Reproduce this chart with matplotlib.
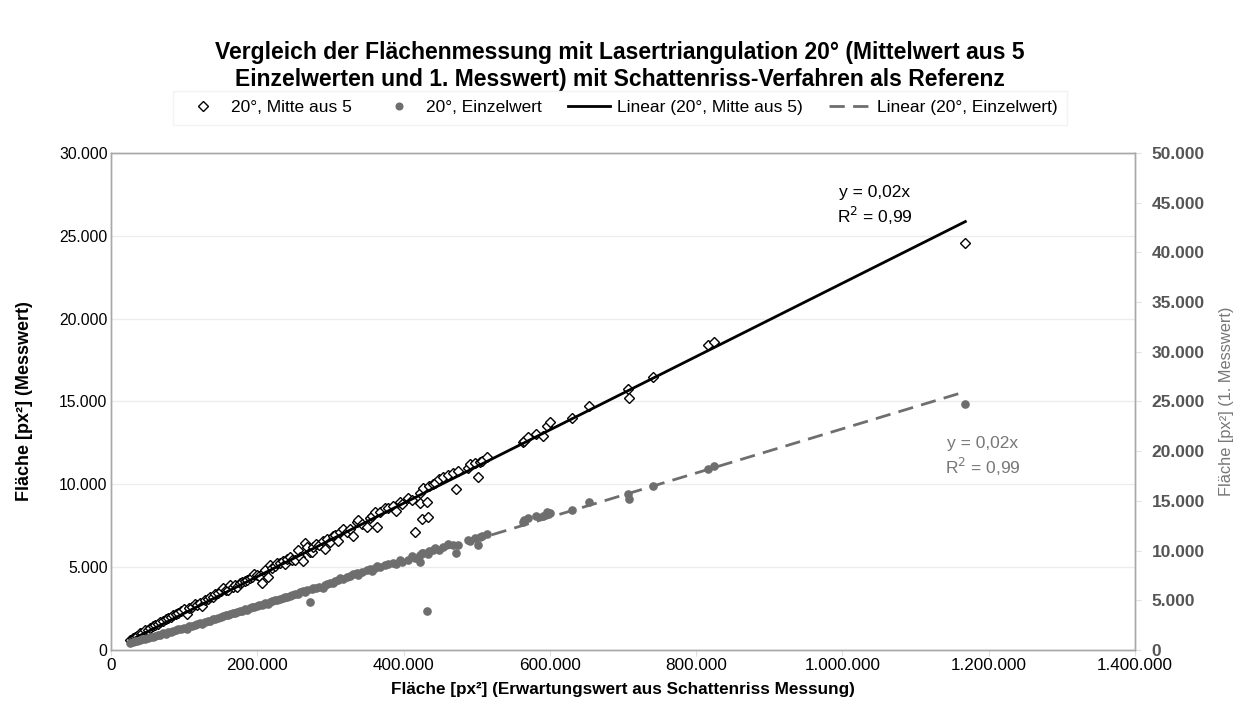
import matplotlib.pyplot as plt
import numpy as np
from matplotlib.lines import Line2D
from matplotlib.ticker import FuncFormatter

plt.rcParams["font.family"] = ["Liberation Sans", "DejaVu Sans"]

# Fläche aus Schattenriss (Tsd. px²)
x_ref = [26, 30, 33, 36, 40, 43, 46, 50, 53, 57, 60, 64, 67, 71, 75, 78, 82, 85,
         89, 92, 96, 100, 104, 107, 111, 115, 118, 122, 125, 129, 132, 135, 139,
         142, 146, 150, 153, 157, 160, 163, 167, 170, 172, 176, 179, 183, 186,
         190, 193, 196, 199, 203, 206, 209, 211, 215, 217, 220, 224, 227, 231,
         235, 238, 241, 245, 248, 252, 256, 259, 263, 265, 268, 272, 275, 276,
         280, 285, 290, 292, 295, 299, 304, 306, 310, 313, 317, 322, 327, 331,
         336, 338, 343, 350, 354, 357, 361, 364, 368, 375, 379, 386, 390, 395,
         398, 406, 411, 415, 422, 422, 425, 427, 432, 434, 435, 440, 443, 449,
         454, 461, 468, 472, 475, 488, 491, 498, 502, 505, 507, 514, 563, 565,
         570, 581, 590, 596, 600, 630, 653, 707, 708, 741, 816, 824, 1168]
# 20°, Mittelwert aus 5 (Tsd. px², linke Achse)
y_mean5 = [0.60, 0.70, 0.78, 0.85, 1.00, 1.05, 1.20, 1.22, 1.30, 1.42, 1.50, 1.55,
           1.70, 1.75, 1.85, 1.95, 1.98, 2.10, 2.20, 2.25, 2.35, 2.45, 2.15, 2.55,
           2.60, 2.75, 2.70, 2.85, 2.65, 3.00, 3.10, 3.20, 3.20, 3.35, 3.45, 3.55,
           3.75, 3.60, 3.65, 3.90, 3.80, 3.95, 3.80, 4.05, 4.10, 4.15, 4.25, 4.35,
           4.40, 4.60, 4.55, 4.45, 4.05, 4.70, 4.85, 4.40, 5.15, 4.95, 5.05, 5.25,
           5.25, 5.35, 5.20, 5.50, 5.60, 5.45, 5.45, 6.05, 5.60, 5.35, 6.45, 6.20,
           5.90, 5.90, 6.20, 6.40, 6.35, 6.55, 6.10, 6.70, 6.50, 6.85, 6.95, 6.55,
           7.10, 7.30, 7.10, 7.30, 6.85, 7.70, 7.85, 7.60, 7.40, 7.95, 8.10, 8.30,
           7.40, 8.30, 8.60, 8.55, 8.70, 8.40, 8.95, 8.80, 9.20, 9.05, 7.15, 9.50,
           8.90, 7.90, 9.75, 8.95, 8.00, 9.90, 10.00, 10.10, 10.30, 10.45, 10.55,
           10.70, 9.70, 10.80, 11.00, 11.20, 11.30, 10.45, 11.35, 11.40, 11.65,
           12.55, 12.60, 12.85, 13.05, 12.90, 13.50, 13.75, 14.00, 14.75, 15.75,
           15.20, 16.50, 18.40, 18.60, 24.55]
# 20°, Einzelwert (Tsd. px², rechte Achse)
y_single = [0.75, 0.85, 0.90, 0.95, 1.05, 1.10, 1.15, 1.25, 1.30, 1.30, 1.45, 1.50,
            1.55, 1.70, 1.65, 1.80, 1.85, 1.95, 2.00, 2.10, 2.15, 2.25, 2.10, 2.40,
            2.45, 2.55, 2.60, 2.70, 2.65, 2.85, 2.95, 2.90, 3.10, 3.15, 3.25, 3.30,
            3.40, 3.50, 3.55, 3.60, 3.70, 3.75, 3.85, 3.90, 3.95, 4.10, 4.05, 4.20,
            4.30, 4.35, 4.45, 4.55, 4.50, 4.60, 4.70, 4.65, 4.80, 4.90, 5.00, 5.05,
            5.15, 5.20, 5.35, 5.30, 5.40, 5.55, 5.65, 5.60, 5.80, 5.90, 5.85, 6.00,
            4.85, 6.10, 6.20, 6.25, 6.35, 6.20, 6.50, 6.60, 6.75, 6.70, 6.90, 7.00,
            7.20, 7.15, 7.35, 7.45, 7.60, 7.70, 7.55, 7.85, 8.00, 8.10, 7.95, 8.25,
            8.40, 8.35, 8.55, 8.60, 8.80, 8.65, 9.10, 8.90, 9.10, 9.50, 9.30, 8.90,
            9.60, 9.80, 9.80, 3.90, 9.70, 10.00, 10.10, 10.30, 10.10, 10.40, 10.70,
            10.60, 9.80, 10.60, 11.10, 11.00, 11.30, 10.60, 11.40, 11.50, 11.70,
            12.85, 13.10, 13.30, 13.50, 13.45, 13.85, 13.80, 14.05, 14.85, 15.65,
            15.15, 16.45, 18.20, 18.50, 24.70]

# labels of the Excel trendlines as printed on the chart
trend_label_mean5 = "y = 0,02x\nR$^2$ = 0,99"
trend_label_single = "y = 0,02x\nR$^2$ = 0,99"

x = np.array(x_ref) * 1000
ym = np.array(y_mean5) * 1000
ys = np.array(y_single) * 1000


def de_fmt(v, pos):
    return f"{v:,.0f}".replace(",", ".")


def slope_origin(xv, yv):
    """Linear trend through origin, like the Excel trendline."""
    return np.sum(xv * yv) / np.sum(xv * xv)


GRAY = "#6e6e6e"
FRAME = "#a8a8a8"
DASH = (5.5, 3)

fig = plt.figure(figsize=(12.39, 7.23), dpi=100)
ax = fig.add_axes([0.0896, 0.101, 0.8265, 0.6874])
ax2 = ax.twinx()

ax.plot(x, ym, ls="none", marker="D", ms=5.4, mfc="white", mec="black", mew=1.0, zorder=3)
ax2.plot(x, ys, ls="none", marker="o", ms=5.2, mfc=GRAY, mec=GRAY, zorder=3)

xl = np.array([x.min(), x.max()])
ax.plot(xl, slope_origin(x, ym) * xl, color="black", lw=2.0, zorder=4)
ax2.plot(xl, slope_origin(x, ys) * xl, color=GRAY, lw=2.0, dashes=DASH, zorder=4)

ax.set_xlim(0, 1400000)
ax.set_ylim(0, 30000)
ax2.set_ylim(0, 50000)
ax.set_xticks(np.arange(0, 1400001, 200000))
ax.set_yticks(np.arange(0, 30001, 5000))
ax2.set_yticks(np.arange(0, 50001, 5000))
for a in (ax, ax2):
    a.xaxis.set_major_formatter(FuncFormatter(de_fmt))
    a.yaxis.set_major_formatter(FuncFormatter(de_fmt))
    for s in a.spines.values():
        s.set_color(FRAME)
        s.set_linewidth(1.0)

ax.grid(axis="y", color="#ececec", lw=1.0)
ax.set_axisbelow(True)
ax.tick_params(axis="x", length=4, color="#e0e0e0", labelsize=12.3, pad=1.5)
ax.tick_params(axis="y", length=0, labelsize=11.3, pad=2.5)
ax2.tick_params(axis="y", length=4, color="#e0e0e0", labelsize=12.5, pad=8,
                labelcolor="#555555")
for lab in ax2.get_yticklabels():
    lab.set_fontweight("bold")

ax.set_xlabel("Fläche [px²] (Erwartungswert aus Schattenriss Messung)",
              fontsize=12.3, fontweight="bold", labelpad=7)
ax.set_ylabel("Fläche [px²] (Messwert)", fontsize=13, fontweight="bold", labelpad=19)
ax2.set_ylabel("Fläche [px²] (1. Messwert)", fontsize=11.8, color="#777777", labelpad=10)

ax.text(1044000, 26790, trend_label_mean5, ha="center", va="center", fontsize=12.5,
        linespacing=1.3, bbox=dict(fc="white", ec="none", pad=2), zorder=5)
ax.text(1192000, 11640, trend_label_single, ha="center", va="center", fontsize=12.5,
        color="#777777", linespacing=1.3, bbox=dict(fc="white", ec="none", pad=2),
        zorder=5)

handles = [
    Line2D([], [], ls="none", marker="D", ms=4.6, mfc="white", mec="black"),
    Line2D([], [], ls="none", marker="o", ms=4.8, mfc=GRAY, mec=GRAY),
    Line2D([], [], color="black", lw=2.0),
    Line2D([], [], color=GRAY, lw=2.0, dashes=DASH),
]
labels = ["20°, Mitte aus 5", "20°, Einzelwert", "Linear (20°, Mitte aus 5)",
          "Linear (20°, Einzelwert)"]
leg = fig.legend(handles, labels, loc="center", bbox_to_anchor=(0.5004, 0.851),
                 ncol=4, fontsize=12.5, frameon=True, fancybox=False,
                 handlelength=2.4, columnspacing=1.5, handletextpad=0.4,
                 borderpad=0.55)
leg.get_frame().set_edgecolor("#f0f0f0")

fig.text(0.5, 1 - 66 / 723,
         "Vergleich der Flächenmessung mit Lasertriangulation 20° (Mittelwert aus 5\n"
         "Einzelwerten und 1. Messwert) mit Schattenriss-Verfahren als Referenz",
         ha="center", va="center", fontsize=16.5, fontweight="bold", linespacing=1.2)

fig.savefig("out.png", dpi=100)
